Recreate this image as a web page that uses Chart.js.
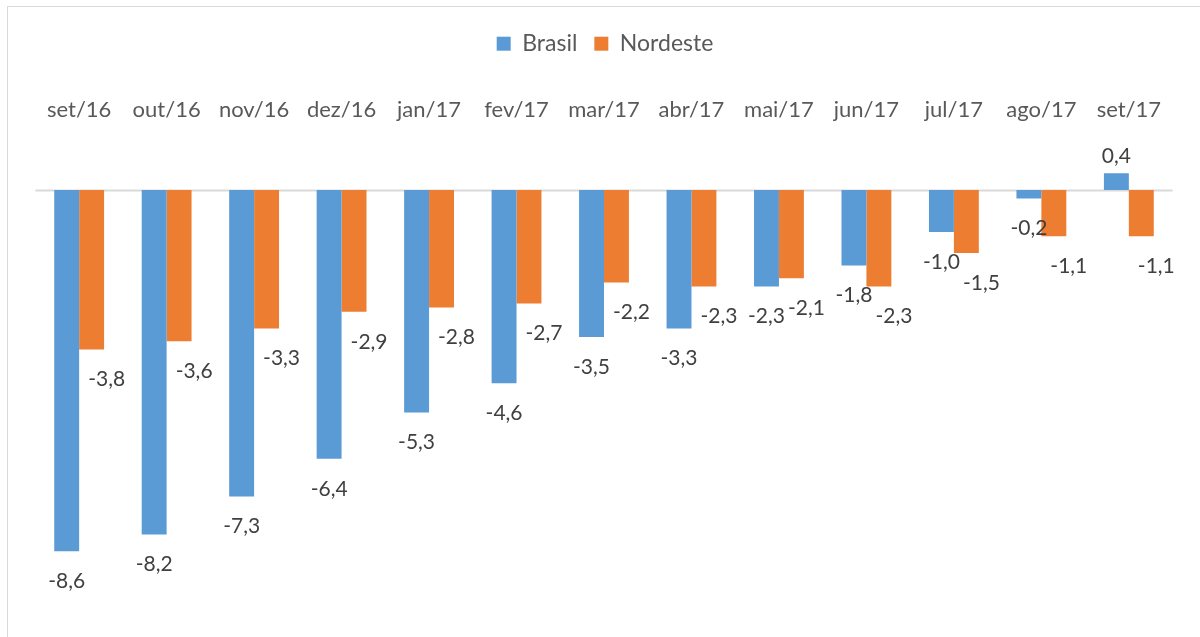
<!DOCTYPE html>
<html>
<head>
<meta charset="utf-8">
<script src="https://cdn.jsdelivr.net/npm/chart.js@4.4.0/dist/chart.umd.min.js"></script>
<style>
  html, body { margin: 0; padding: 0; background: #fff; overflow: hidden; }
  .frame {
    position: absolute; left: 7px; top: 6px;
    width: 1192px; height: 640px;
    border: 1px solid #d9d9d9; background: #fff;
  }
  canvas { display: block; }
</style>
</head>
<body>
<div class="frame"><canvas id="chart" width="1192" height="640"></canvas></div>
<script>
const months = ['set/16', 'out/16', 'nov/16', 'dez/16', 'jan/17', 'fev/17', 'mar/17',
                'abr/17', 'mai/17', 'jun/17', 'jul/17', 'ago/17', 'set/17'];
const brasil   = [-8.6, -8.2, -7.3, -6.4, -5.3, -4.6, -3.5, -3.3, -2.3, -1.8, -1.0, -0.2, 0.4];
const nordeste = [-3.8, -3.6, -3.3, -2.9, -2.8, -2.7, -2.2, -2.3, -2.1, -2.3, -1.5, -1.1, -1.1];

const FONT = 'Lato';

// zero line across the plot
const zeroLine = {
    id: 'zeroLine',
    beforeDatasetsDraw(chart) {
        const { ctx: c, chartArea: a, scales: { y } } = chart;
        const py = Math.round(y.getPixelForValue(0)) + 0.5;
        c.save();
        c.strokeStyle = '#d9d9d9';
        c.lineWidth = 2;
        c.beginPath();
        c.moveTo(a.left, py);
        c.lineTo(a.right, py);
        c.stroke();
        c.restore();
    }
};

// value labels under (or over) each bar, comma decimals like the original
const valueLabels = {
    id: 'valueLabels',
    afterDatasetsDraw(chart) {
        const c = chart.ctx;
        c.save();
        c.font = '21px ' + FONT;
        c.fillStyle = '#404040';
        c.textAlign = 'center';
        c.textBaseline = 'middle';
        chart.data.datasets.forEach((ds, i) => {
            const dx = i === 1 ? 15 : 0;
            chart.getDatasetMeta(i).data.forEach((bar, j) => {
                const v = ds.data[j];
                const txt = v.toFixed(1).replace('.', ',');
                const y = v < 0 ? bar.y + 30 : bar.y - 17;
                c.fillText(txt, bar.x + dx, y);
            });
        });
        c.restore();
    }
};

const legendHeight = {
    id: 'legendHeight',
    beforeInit(chart) {
        const fit = chart.legend.fit;
        chart.legend.fit = function () {
            fit.call(this);
            this.height = 70;
        };
    }
};

new Chart(document.getElementById('chart'), {
    type: 'bar',
    data: {
        labels: months,
        datasets: [
            { label: 'Brasil', data: brasil, backgroundColor: '#5b9bd5' },
            { label: 'Nordeste', data: nordeste, backgroundColor: '#ed7d31' }
        ]
    },
    options: {
        responsive: false,
        animation: false,
        layout: { autoPadding: false, padding: { left: 27, right: 25, top: 0, bottom: 37 } },
        datasets: { bar: { categoryPercentage: 0.57, barPercentage: 1 } },
        scales: {
            x: {
                position: 'top',
                grid: { display: false },
                border: { display: false },
                ticks: { color: '#595959', font: { family: FONT, size: 22 }, padding: 38, maxRotation: 0 },
                afterFit(axis) { axis.height = 92; }
            },
            y: {
                display: false,
                min: -10, max: 0.5
            }
        },
        plugins: {
            legend: {
                position: 'top',
                title: { display: true, text: '', font: { size: 1 }, padding: { top: 7, bottom: 0 } },
                labels: {
                    color: '#595959',
                    font: { family: FONT, size: 23 },
                    boxWidth: 14, boxHeight: 14,
                    padding: 17
                }
            },
            tooltip: { enabled: false }
        }
    },
    plugins: [zeroLine, valueLabels, legendHeight]
});
</script>
</body>
</html>
